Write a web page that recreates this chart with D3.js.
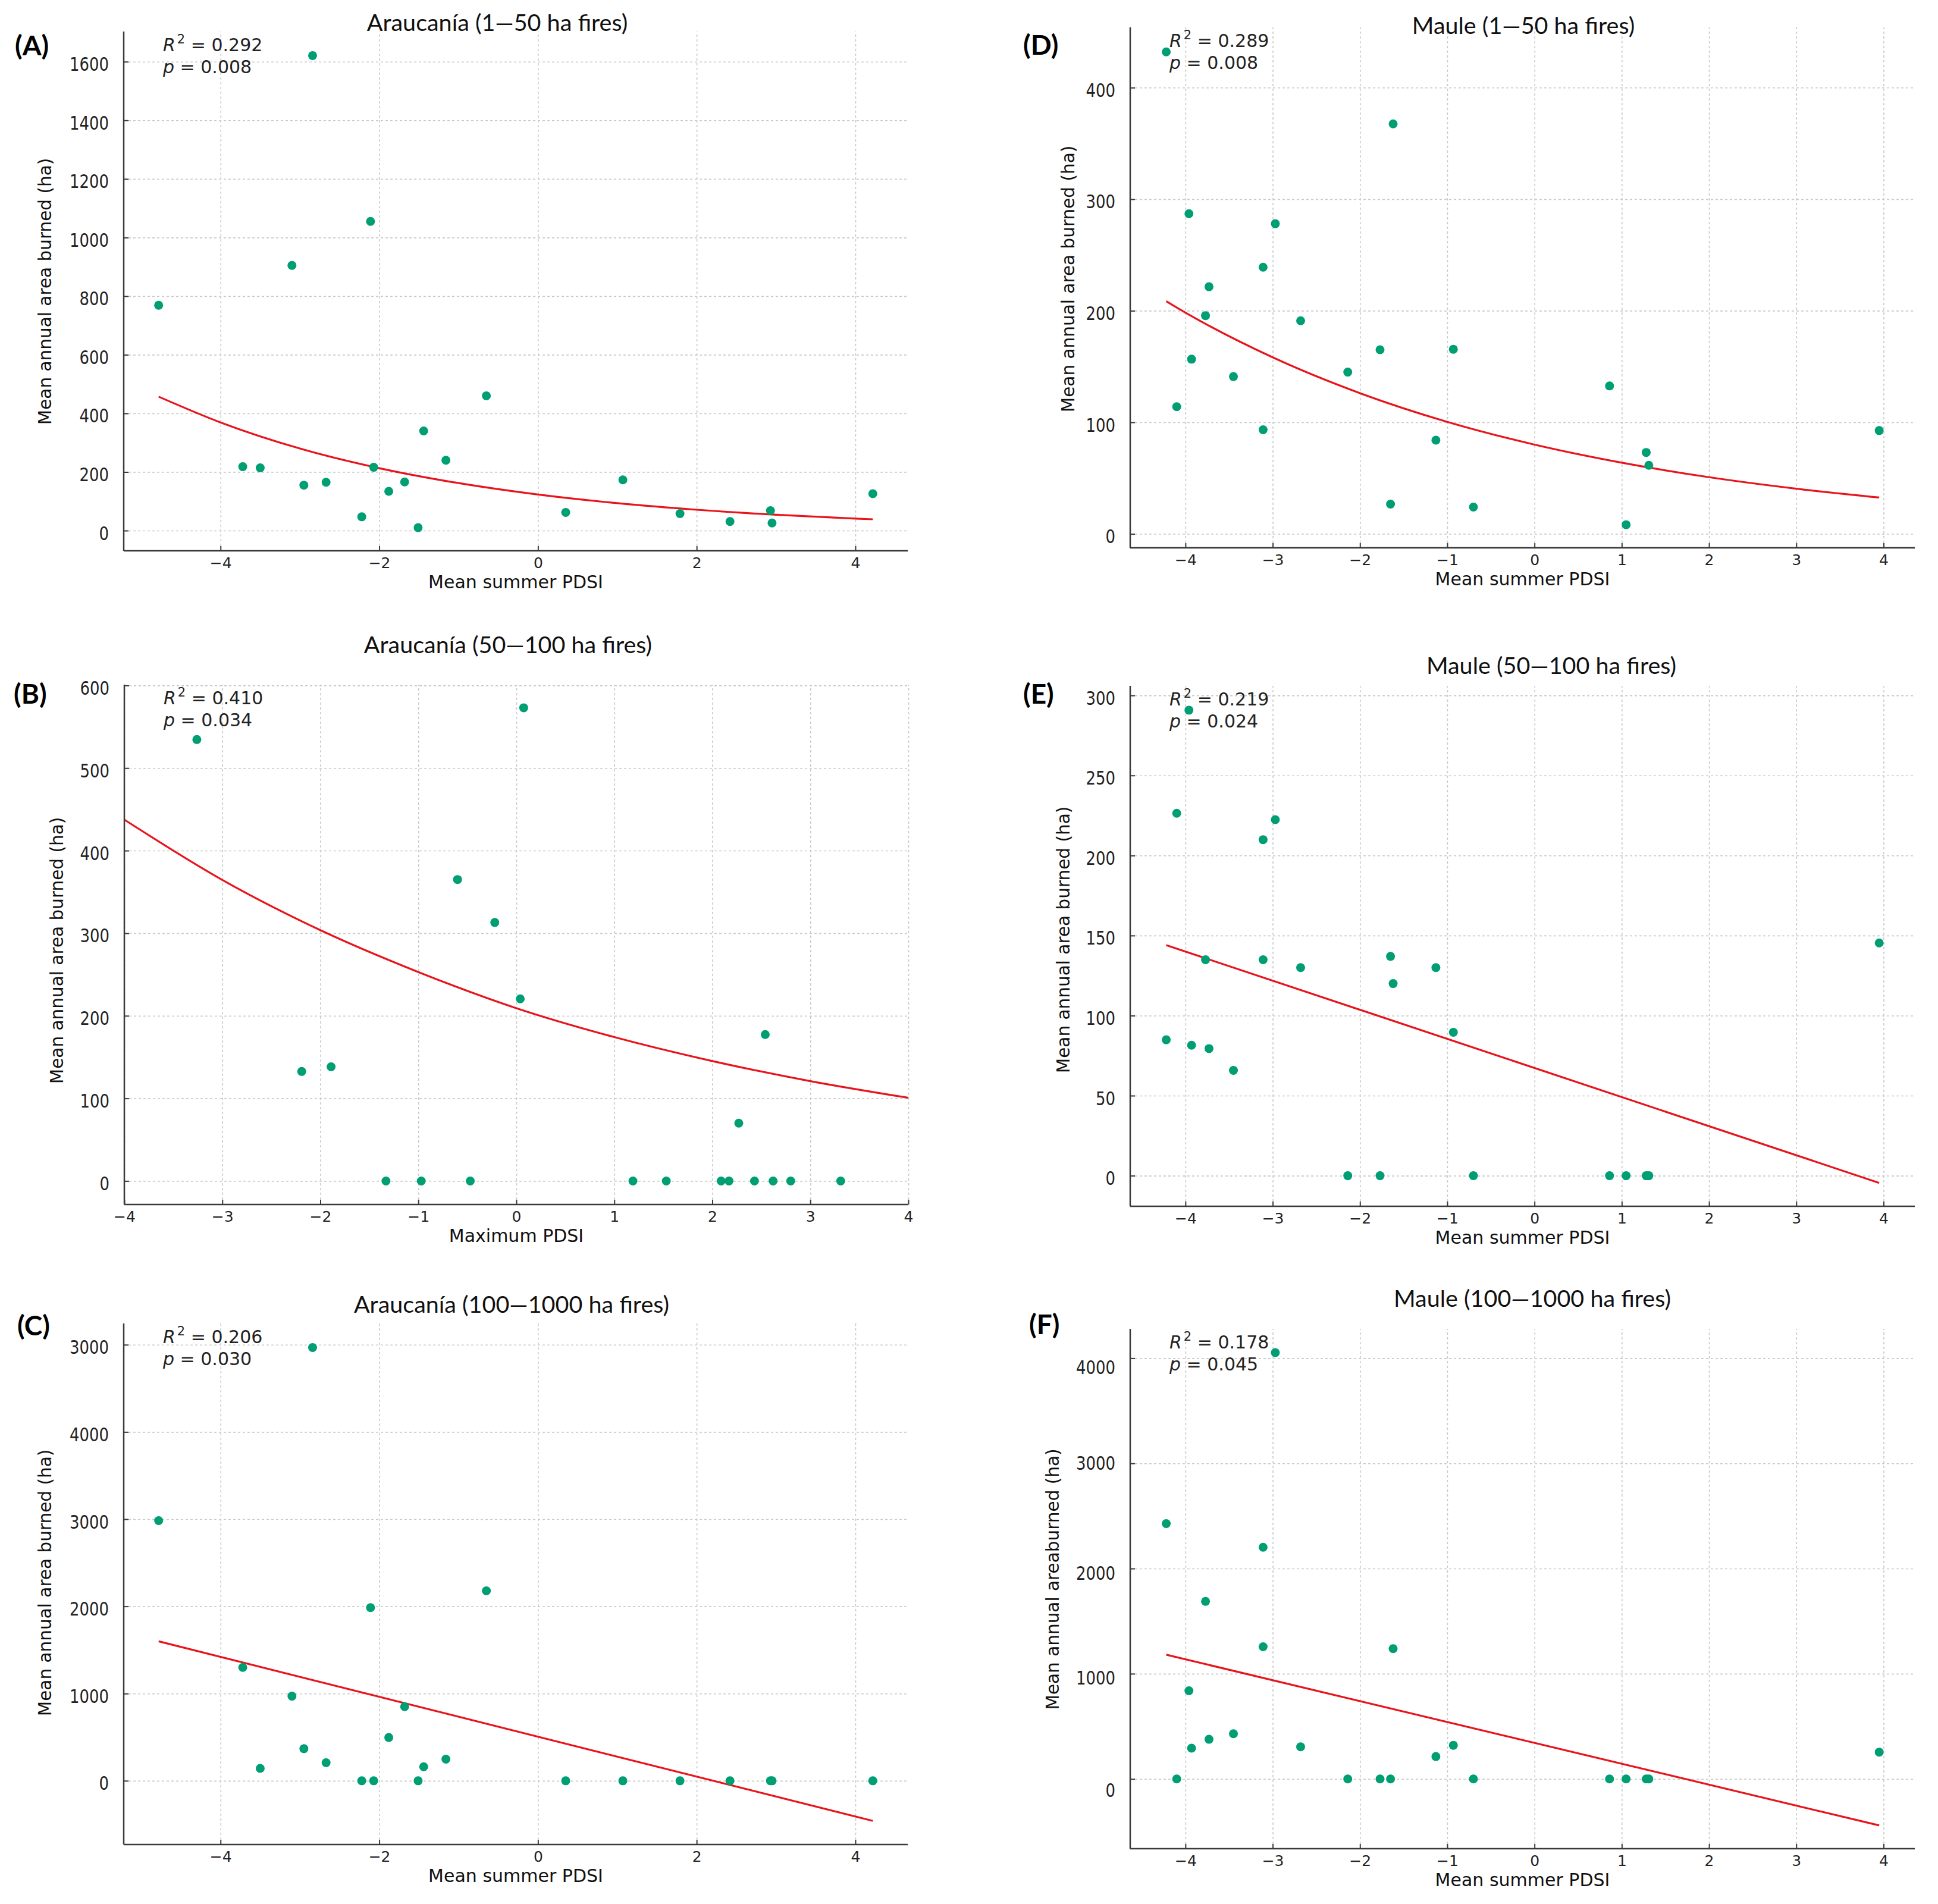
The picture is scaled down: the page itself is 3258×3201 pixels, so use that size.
<!DOCTYPE html>
<html><head><meta charset="utf-8">
<script src="https://cdn.jsdelivr.net/npm/d3@7"></script>
<style>body{margin:0;background:#fff} svg{display:block}</style>
</head><body>
<svg id="chart" width="3258" height="3201"></svg>
<script>
// ---------------- DATA ----------------
// Araucanía: mean summer PDSI (panels A, C)
const araucaniaPDSI = [-4.78,-3.72,-3.50,-3.10,-2.95,-2.84,-2.67,-2.22,-2.11,-2.07,-1.88,-1.68,-1.51,-1.44,-1.16,-0.65,0.35,1.07,1.79,2.42,2.93,2.95,4.22];
const araucaniaArea1to50 = [769,218,214,905,155,1621,165,47,1055,216,134,166,10,340,240,460,62,173,58,31,68,26,126];
const araucaniaArea100to1000 = [2983,1300,142,970,368,4968,207,0,1985,0,496,850,0,161,248,2178,0,0,0,0,0,0,0];
// Araucanía: maximum PDSI (panel B)
const araucaniaMaxPDSI = [-3.26,-2.19,-1.89,-1.33,-0.97,-0.60,-0.47,-0.22,0.04,0.075,1.19,1.53,2.09,2.17,2.27,2.43,2.54,2.62,2.80,3.31];
const araucaniaArea50to100 = [534.5,132.6,138.2,0,0,365,0,313,220.5,573,0,0,0,0,70,0,177.3,0,0,0];
// Maule: mean summer PDSI (panels D, E, F)
const maulePDSI = [-4.22,-4.10,-3.96,-3.93,-3.77,-3.73,-3.45,-3.11,-3.11,-2.97,-2.68,-2.14,-1.77,-1.65,-1.62,-1.13,-0.93,-0.70,0.86,1.05,1.28,1.31,3.95];
const mauleArea1to50 = [432,114,287,156.6,195.6,221.5,141,239,93.3,278,191,145,165,26.7,367.5,84,165.5,24,132.6,8.2,73,61.5,92.6];
const mauleArea50to100 = [84.9,226.4,290.8,81.5,134.9,79.4,65.8,209.9,134.9,222.4,130,0,0,137,120,130,89.6,0,0,0,0,0,145.4];
const mauleArea100to1000 = [2427,0,838,293,1688,377,430,2202,1257,4053,305,0,0,0,1238,213,320,0,0,0,0,0,255];

// Fitted curves
const fitA_x = [-4.78,-4,-3,-2,-1,0,1,2,3,4,4.22];
const fitA_y = [457,369,280,213,162,123,93.5,71,54,41,38.6];
const fitB_x = [-4,-3,-2,-1,0,1,2,3,4];
const fitB_y = [437.5,364.5,303.7,253,209.2,174.2,145.2,120.9,100.7];
const fitC_x = [-4.78,4.22];
const fitC_y = [1599,-460];
const fitD_x = [-4.22,-4,-3,-2,-1,0,1,2,3,3.95];
const fitD_y = [208.5,198.3,158.2,126.1,100.4,80,63.8,50.8,40.5,32.6];
const fitE_x = [-4.22,3.95];
const fitE_y = [144,-4.5];
const fitF_x = [-4.22,3.95];
const fitF_y = [1181,-442];

// Tick values / labels
const ticksX_even = [-4,-2,0,2,4];
const ticksX_unit = [-4,-3,-2,-1,0,1,2,3,4];
const ticksA_y = [0,200,400,600,800,1000,1200,1400,1600];
const ticksB_y = [0,100,200,300,400,500,600];
const ticksC_y = [0,1000,2000,3000,4000,5000];
const ticksC_yLabels = ["0","1000","2000","3000","4000","3000"];
const ticksD_y = [0,100,200,300,400];
const ticksE_y = [0,50,100,150,200,250,300];
const ticksF_y = [0,1000,2000,3000,4000];

const statsR2 = {A:"0.292",B:"0.410",C:"0.206",D:"0.289",E:"0.219",F:"0.178"};
const statsP  = {A:"0.008",B:"0.034",C:"0.030",D:"0.008",E:"0.024",F:"0.045"};

// ---------------- LAYOUT ----------------
const panels = [
  {k:"A", title:"Araucanía (1\u201450 ha fires)", xlabel:"Mean summer PDSI", ylabel:"Mean annual area burned (ha)",
   xs:araucaniaPDSI, ys:araucaniaArea1to50, fx:fitA_x, fy:fitA_y, xt:ticksX_even, yt:ticksA_y,
   fr:{l:208,r:1526,t:53,b:926}, xd:[-5.22,4.66], yd:[-69,1703],
   tp:[836,52], lp:[25,93], yl:[86,490]},
  {k:"B", title:"Araucanía (50\u2014100 ha fires)", xlabel:"Maximum PDSI", ylabel:"Mean annual area burned (ha)",
   xs:araucaniaMaxPDSI, ys:araucaniaArea50to100, fx:fitB_x, fy:fitB_y, xt:ticksX_unit, yt:ticksB_y,
   fr:{l:209,r:1527,t:1151,b:2025}, xd:[-4,4], yd:[-28.5,601],
   tp:[854,1098], lp:[23,1183], yl:[106,1598]},
  {k:"C", title:"Araucanía (100\u20141000 ha fires)", xlabel:"Mean summer PDSI", ylabel:"Mean annual area burned (ha)",
   xs:araucaniaPDSI, ys:araucaniaArea100to1000, fx:fitC_x, fy:fitC_y, xt:ticksX_even, yt:ticksC_y, ytl:ticksC_yLabels,
   fr:{l:208,r:1526,t:2225,b:3101}, xd:[-5.22,4.66], yd:[-731,5244],
   tp:[860,2207], lp:[29,2245], yl:[86,2661]},
  {k:"D", title:"Maule (1\u201450 ha fires)", xlabel:"Mean summer PDSI", ylabel:"Mean annual area burned (ha)",
   xs:maulePDSI, ys:mauleArea1to50, fx:fitD_x, fy:fitD_y, xt:ticksX_unit, yt:ticksD_y,
   fr:{l:1900,r:3219,t:46,b:921}, xd:[-4.633,4.358], yd:[-12.5,454],
   tp:[2561,57], lp:[1720,92], yl:[1806,469]},
  {k:"E", title:"Maule (50\u2014100 ha fires)", xlabel:"Mean summer PDSI", ylabel:"Mean annual area burned (ha)",
   xs:maulePDSI, ys:mauleArea50to100, fx:fitE_x, fy:fitE_y, xt:ticksX_unit, yt:ticksE_y,
   fr:{l:1900,r:3219,t:1153,b:2028}, xd:[-4.633,4.358], yd:[-19.1,306],
   tp:[2608,1133], lp:[1720,1183], yl:[1798,1580]},
  {k:"F", title:"Maule (100\u20141000 ha fires)", xlabel:"Mean summer PDSI", ylabel:"Mean annual areaburned (ha)",
   xs:maulePDSI, ys:mauleArea100to1000, fx:fitF_x, fy:fitF_y, xt:ticksX_unit, yt:ticksF_y,
   fr:{l:1900,r:3219,t:2234,b:3108}, xd:[-4.633,4.358], yd:[-663,4279],
   tp:[2576,2197], lp:[1730,2243], yl:[1780,2655], yShift:[15,3,3,-5,11]}
];

const svg = d3.select("#chart");
svg.append("rect").attr("width",3258).attr("height",3201).attr("fill","#fff");

const DOT = "#009e73", LINE = "#e8141c", SPINE = "#3a3a3a", GRID = "#c9c9c9";
const TXT = "DejaVu Sans, Verdana, sans-serif";
const TITLEF = "Lato, 'Open Sans', sans-serif";

panels.forEach(P => {
  const g = svg.append("g");
  const f = P.fr;
  const x = d3.scaleLinear().domain(P.xd).range([f.l, f.r]);
  const y = d3.scaleLinear().domain(P.yd).range([f.b, f.t]);

  // grid
  const gx = g.append("g").attr("transform",`translate(0,${f.b})`)
    .call(d3.axisBottom(x).tickValues(P.xt).tickSize(-(f.b-f.t)).tickFormat(""));
  const gy = g.append("g").attr("transform",`translate(${f.l},0)`)
    .call(d3.axisLeft(y).tickValues(P.yt).tickSize(-(f.r-f.l)).tickFormat(""));
  [gx,gy].forEach(a=>{
    a.select(".domain").remove();
    a.selectAll("line").attr("stroke",GRID).attr("stroke-width",1.6).attr("stroke-dasharray","4,4");
  });

  // fit line
  const line = d3.line().x(d=>x(d[0])).y(d=>y(d[1])).curve(d3.curveMonotoneX);
  g.append("path").datum(d3.zip(P.fx,P.fy)).attr("d",line)
    .attr("fill","none").attr("stroke",LINE).attr("stroke-width",3.2);

  // points
  g.append("g").selectAll("circle").data(d3.zip(P.xs,P.ys)).join("circle")
    .attr("cx",d=>x(d[0])).attr("cy",d=>y(d[1])).attr("r",7.5).attr("fill",DOT);

  // axes
  const ax = g.append("g").attr("transform",`translate(0,${f.b})`)
    .call(d3.axisBottom(x).tickValues(P.xt).tickSizeInner(-8).tickSizeOuter(0).tickPadding(11));
  ax.select(".domain").attr("d",`M${f.l},0H${f.r}`);
  ax.selectAll("text").attr("font-family",TXT).attr("font-size",25).attr("fill","#222");
  const ayAxis = d3.axisLeft(y).tickValues(P.yt).tickSizeInner(-8).tickSizeOuter(0).tickPadding(31);
  if (P.ytl) ayAxis.tickFormat((d,i)=>P.ytl[i]); else ayAxis.tickFormat(d3.format("d"));
  const ay = g.append("g").attr("transform",`translate(${f.l},0)`).call(ayAxis);
  ay.select(".domain").attr("d",`M0,${f.t}V${f.b}`);
  ay.selectAll("text").attr("font-family",TXT).attr("font-size",32).attr("fill","#222")
    .attr("dy","0.47em")
    .attr("transform",(d,i)=>`translate(0,${P.yShift ? P.yShift[i] : 0}) scale(0.81,1)`);
  [ax,ay].forEach(a=>{
    a.select(".domain").attr("stroke",SPINE).attr("stroke-width",2.5);
    a.selectAll(".tick line").attr("stroke",SPINE).attr("stroke-width",2);
  });

  // axis labels
  g.append("text").attr("x",(f.l+f.r)/2).attr("y",f.b+63).attr("text-anchor","middle")
    .attr("font-family",TXT).attr("font-size",30).attr("fill","#111").text(P.xlabel);
  g.append("text").attr("transform",`translate(${P.yl[0]},${P.yl[1]}) rotate(-90)`)
    .attr("text-anchor","middle").attr("font-family",TXT).attr("font-size",29.5).attr("fill","#111").text(P.ylabel);

  // title
  g.append("text").attr("x",P.tp[0]).attr("y",P.tp[1]).attr("text-anchor","middle")
    .attr("font-family",TITLEF).attr("font-size",39.5).attr("fill","#111").text(P.title);

  // panel letter
  g.append("text").attr("x",P.lp[0]).attr("y",P.lp[1])
    .attr("font-family",TITLEF).attr("font-weight","bold").attr("font-size",46).attr("fill","#000").text(`(${P.k})`);

  // stats annotation
  const t1 = g.append("text").attr("x",f.l+66).attr("y",f.t+33)
    .attr("font-family",TXT).attr("font-size",30).attr("fill","#222");
  t1.append("tspan").attr("font-style","italic").text("R");
  t1.append("tspan").attr("font-size",21).attr("dy",-13).attr("dx",3).text("2");
  t1.append("tspan").attr("dy",13).text(" = " + statsR2[P.k]);
  const t2 = g.append("text").attr("x",f.l+66).attr("y",f.t+70)
    .attr("font-family",TXT).attr("font-size",30).attr("fill","#222");
  t2.append("tspan").attr("font-style","italic").text("p");
  t2.append("tspan").text(" = " + statsP[P.k]);
});
</script>
</body></html>
